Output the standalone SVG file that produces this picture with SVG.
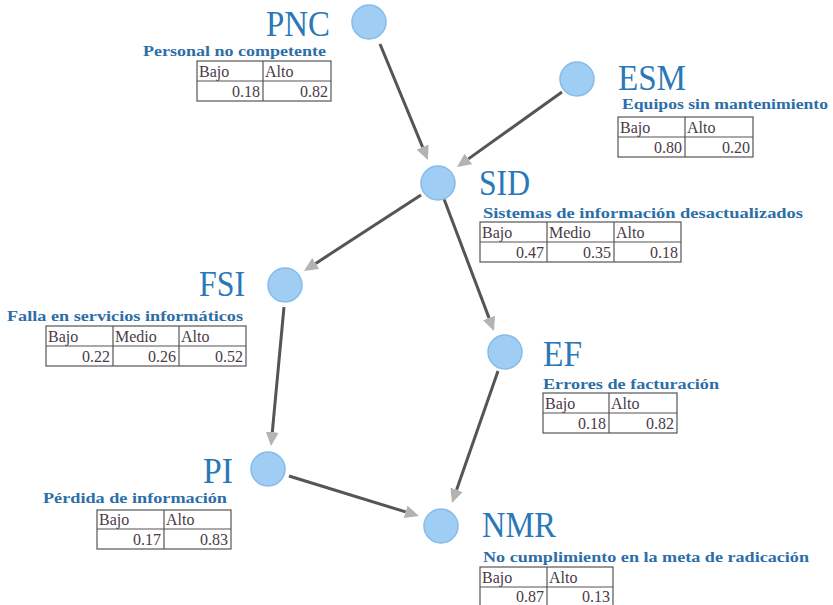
<svg xmlns="http://www.w3.org/2000/svg" width="833" height="605" viewBox="0 0 833 605">
<style>
.node{fill:#9fcdf3;stroke:#86bce9;stroke-width:1.5}
.title{font-family:"Liberation Serif",serif;font-size:35px;fill:#2a78b8}
.sub{font-family:"Liberation Serif",serif;font-size:15.5px;font-weight:bold;fill:#2d6ea7}
.cell{font-family:"Liberation Serif",serif;font-size:16px;fill:#4a3a48}
.num{font-family:"Liberation Serif",serif;font-size:16px;fill:#4a3a48;text-anchor:end}
.tb{fill:#fff;stroke:#555;stroke-width:1.2}
.tl{stroke:#555;stroke-width:1.2}
.edge{stroke:#555;stroke-width:3;fill:none;marker-end:url(#arr)}
</style>
<defs>
<marker id="arr" markerUnits="userSpaceOnUse" viewBox="0 0 14 13" refX="0" refY="6.5" markerWidth="14" markerHeight="13" orient="auto">
<path d="M0,0 L14,6.5 L0,13 Z" fill="#b3b3b3"/>
</marker>
</defs>
<rect width="833" height="605" fill="#fff"/>
<g id="connectors">
<line class="edge" x1="380" y1="44" x2="422.6" y2="147.1"/>
<line class="edge" x1="562" y1="92" x2="468.4" y2="158.9"/>
<line class="edge" x1="421" y1="195" x2="315.7" y2="263.4"/>
<line class="edge" x1="444" y1="199" x2="489" y2="317.9"/>
<line class="edge" x1="284" y1="307" x2="272.3" y2="432.1"/>
<line class="edge" x1="498" y1="371" x2="456.6" y2="489.8"/>
<line class="edge" x1="289" y1="476" x2="405.6" y2="511.9"/>
</g>
<g id="PNC">
<circle class="node" cx="369" cy="22" r="17"/>
<text class="title" x="266" y="36" textLength="64" lengthAdjust="spacingAndGlyphs">PNC</text>
<text class="sub" x="143" y="56" textLength="183" lengthAdjust="spacingAndGlyphs">Personal no competente</text>
<rect class="tb" x="197" y="61" width="134" height="40"/>
<line class="tl" x1="263" y1="61" x2="263" y2="101"/>
<line class="tl" x1="197" y1="81" x2="331" y2="81"/>
<text class="cell" x="199" y="77">Bajo</text><text class="cell" x="265" y="77">Alto</text>
<text class="num" x="260" y="97">0.18</text><text class="num" x="328" y="97">0.82</text>
</g>
<g id="ESM">
<circle class="node" cx="577" cy="79" r="17"/>
<text class="title" x="618" y="90" textLength="68" lengthAdjust="spacingAndGlyphs">ESM</text>
<text class="sub" x="622" y="109" textLength="206" lengthAdjust="spacingAndGlyphs">Equipos sin mantenimiento</text>
<rect class="tb" x="618" y="117" width="135" height="40"/>
<line class="tl" x1="685" y1="117" x2="685" y2="157"/>
<line class="tl" x1="618" y1="137" x2="753" y2="137"/>
<text class="cell" x="620" y="133">Bajo</text><text class="cell" x="687" y="133">Alto</text>
<text class="num" x="682" y="153">0.80</text><text class="num" x="750" y="153">0.20</text>
</g>
<g id="SID">
<circle class="node" cx="438" cy="183" r="17"/>
<text class="title" x="479" y="195" textLength="51" lengthAdjust="spacingAndGlyphs">SID</text>
<text class="sub" x="483" y="218" textLength="320" lengthAdjust="spacingAndGlyphs">Sistemas de información desactualizados</text>
<rect class="tb" x="480" y="222" width="201" height="40"/>
<line class="tl" x1="547" y1="222" x2="547" y2="262"/>
<line class="tl" x1="614" y1="222" x2="614" y2="262"/>
<line class="tl" x1="480" y1="242" x2="681" y2="242"/>
<text class="cell" x="482" y="238">Bajo</text><text class="cell" x="549" y="238">Medio</text><text class="cell" x="616" y="238">Alto</text>
<text class="num" x="544" y="258">0.47</text><text class="num" x="611" y="258">0.35</text><text class="num" x="678" y="258">0.18</text>
</g>
<g id="FSI">
<circle class="node" cx="285" cy="285" r="17"/>
<text class="title" x="199" y="296" textLength="46" lengthAdjust="spacingAndGlyphs">FSI</text>
<text class="sub" x="7" y="321" textLength="236" lengthAdjust="spacingAndGlyphs">Falla en servicios informáticos</text>
<rect class="tb" x="46" y="326" width="200" height="40"/>
<line class="tl" x1="113" y1="326" x2="113" y2="366"/>
<line class="tl" x1="179" y1="326" x2="179" y2="366"/>
<line class="tl" x1="46" y1="346" x2="246" y2="346"/>
<text class="cell" x="48" y="342">Bajo</text><text class="cell" x="115" y="342">Medio</text><text class="cell" x="181" y="342">Alto</text>
<text class="num" x="110" y="362">0.22</text><text class="num" x="176" y="362">0.26</text><text class="num" x="243" y="362">0.52</text>
</g>
<g id="EF">
<circle class="node" cx="505" cy="352" r="17"/>
<text class="title" x="543" y="366" textLength="39" lengthAdjust="spacingAndGlyphs">EF</text>
<text class="sub" x="543" y="389" textLength="176" lengthAdjust="spacingAndGlyphs">Errores de facturación</text>
<rect class="tb" x="543" y="393" width="134" height="40"/>
<line class="tl" x1="609" y1="393" x2="609" y2="433"/>
<line class="tl" x1="543" y1="413" x2="677" y2="413"/>
<text class="cell" x="545" y="409">Bajo</text><text class="cell" x="611" y="409">Alto</text>
<text class="num" x="606" y="429">0.18</text><text class="num" x="674" y="429">0.82</text>
</g>
<g id="PI">
<circle class="node" cx="268" cy="469" r="17"/>
<text class="title" x="203" y="483" textLength="30" lengthAdjust="spacingAndGlyphs">PI</text>
<text class="sub" x="43" y="503" textLength="184" lengthAdjust="spacingAndGlyphs">Pérdida de información</text>
<rect class="tb" x="97" y="510" width="134" height="39"/>
<line class="tl" x1="164" y1="510" x2="164" y2="549"/>
<line class="tl" x1="97" y1="529" x2="231" y2="529"/>
<text class="cell" x="99" y="525">Bajo</text><text class="cell" x="166" y="525">Alto</text>
<text class="num" x="161" y="545">0.17</text><text class="num" x="228" y="545">0.83</text>
</g>
<g id="NMR">
<circle class="node" cx="441" cy="526" r="17"/>
<text class="title" x="482" y="537" textLength="74" lengthAdjust="spacingAndGlyphs">NMR</text>
<text class="sub" x="483" y="562" textLength="326" lengthAdjust="spacingAndGlyphs">No cumplimiento en la meta de radicación</text>
<rect class="tb" x="480" y="567" width="133" height="42"/>
<line class="tl" x1="547" y1="567" x2="547" y2="609"/>
<line class="tl" x1="480" y1="587" x2="613" y2="587"/>
<text class="cell" x="482" y="583">Bajo</text><text class="cell" x="549" y="583">Alto</text>
<text class="num" x="544" y="602">0.87</text><text class="num" x="610" y="602">0.13</text>
</g>
</svg>
